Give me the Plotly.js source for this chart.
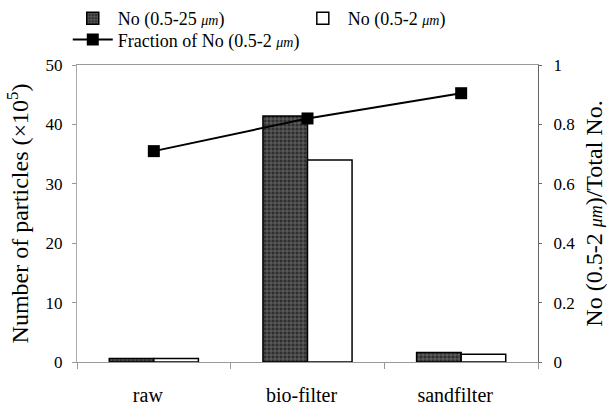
<!DOCTYPE html>
<html>
<head>
<meta charset="utf-8">
<script src="https://cdn.plot.ly/plotly-3.0.1.min.js"></script>
<style>html,body{margin:0;padding:0;background:#fff;}#chart{width:607px;height:412px;}</style>
</head>
<body>
<div id="chart"></div>
<script>
const categories = ["raw", "bio-filter", "sandfilter"];
const total_no = [0.6, 41.4, 1.6];        // No (0.5-25 µm), ×10^5
const small_no = [0.6, 34.0, 1.3];        // No (0.5-2 µm), ×10^5
const fraction = [0.71, 0.82, 0.905];     // No (0.5-2 µm)/Total No.
const leftTicks = [0, 10, 20, 30, 40, 50];
const rightTicks = [0, 0.2, 0.4, 0.6, 0.8, 1];

const serif = "Liberation Serif, Times New Roman, serif";

const traces = [
  {
    type: "bar", x: categories, y: total_no, yaxis: "y",
    name: "No (0.5-25 <i><span style='font-size:14px'>μm</span></i>)",
    legend: "legend",
    marker: {
      color: "#333333",
      line: {color: "#000", width: 1.5},
      pattern: {shape: "+", fillmode: "replace", bgcolor: "#2e2e2e", fgcolor: "#8a8a8a", size: 4, solidity: 0.25}
    }
  },
  {
    type: "bar", x: categories, y: small_no, yaxis: "y",
    name: "No (0.5-2 <i><span style='font-size:14px'>μm</span></i>)",
    legend: "legend2",
    marker: {color: "#ffffff", line: {color: "#000", width: 1.5}}
  },
  {
    type: "scatter", mode: "lines+markers", x: categories, y: fraction, yaxis: "y2",
    name: "Fraction of No (0.5-2 <i><span style='font-size:14px'>μm</span></i>)",
    legend: "legend3",
    line: {color: "#000", width: 2},
    marker: {symbol: "square", size: 12, color: "#000"}
  }
];

const legendBase = {
  orientation: "h", xanchor: "left", yref: "container", yanchor: "top",
  font: {family: serif, size: 18}, itemwidth: 40, bgcolor: "rgba(0,0,0,0)"
};

const layout = {
  width: 607, height: 412,
  margin: {l: 77, r: 69, t: 65, b: 50},
  paper_bgcolor: "#fff", plot_bgcolor: "#fff",
  font: {family: serif, color: "#000", size: 17},
  barmode: "group", bargap: 0.42, bargroupgap: 0,
  hovermode: false,
  showlegend: true,
  legend: Object.assign({}, legendBase, {x: -0.02, y: 1.0}),
  legend2: Object.assign({}, legendBase, {x: 0.479, y: 1.0}),
  legend3: Object.assign({}, legendBase, {x: -0.02, y: 0.948}),
  xaxis: {
    type: "category",
    showline: true, linecolor: "#999", linewidth: 1, mirror: true,
    ticks: "outside", tickson: "boundaries", ticklen: 6, tickcolor: "#999",
    tickfont: {family: serif, size: 20},
    ticklabelstandoff: 15, ticklabelshift: -6,
    showgrid: false, zeroline: false
  },
  yaxis: {
    range: [0, 50], tickvals: leftTicks,
    showline: true, linecolor: "#aaa", linewidth: 1,
    ticks: "outside", ticklen: 4, tickcolor: "#999",
    tickfont: {family: serif, size: 17}, ticklabelstandoff: 6,
    showgrid: false, zeroline: false,
    title: {text: "Number of particles (×10<sup>5</sup>)", font: {family: serif, size: 24}, standoff: 10}
  },
  yaxis2: {
    range: [0, 1], tickvals: rightTicks, overlaying: "y", side: "right",
    showline: true, linecolor: "#666", linewidth: 1,
    ticks: "outside", ticklen: 3, tickcolor: "#666",
    tickfont: {family: serif, size: 17}, ticklabelstandoff: 8,
    showgrid: false, zeroline: false,
    title: {text: "No (0.5-2 <i><span style='font-size:18px'>μm</span></i>)/Total No.", font: {family: serif, size: 24}, standoff: 12}
  }
};

Plotly.newPlot("chart", traces, layout, {displayModeBar: false, staticPlot: true});
</script>
</body>
</html>
